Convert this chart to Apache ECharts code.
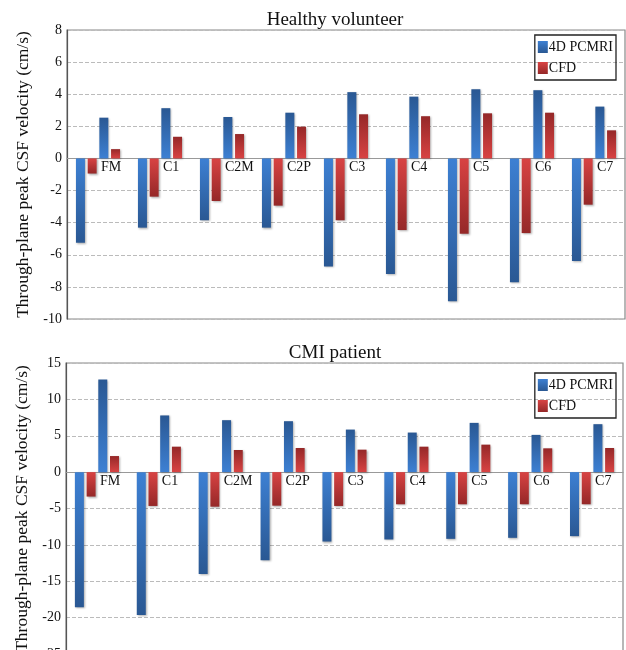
<!DOCTYPE html>
<html>
<head>
<meta charset="utf-8">
<script src="https://cdn.jsdelivr.net/npm/echarts@6/dist/echarts.min.js"></script>
<style>
  html, body { margin: 0; padding: 0; background: #fff; }
  #main { width: 626px; height: 650px; }
</style>
</head>
<body>
<div id="main"></div>
<script>
// levels along the spine
const levels = ['FM', 'C1', 'C2M', 'C2P', 'C3', 'C4', 'C5', 'C6', 'C7']

// healthy volunteer (cm/s)
const hvPcmriNeg = [-5.25, -4.31, -3.85, -4.31, -6.73, -7.19, -8.9, -7.71, -6.38]
const hvCfdNeg = [-0.94, -2.38, -2.65, -2.94, -3.85, -4.46, -4.69, -4.65, -2.88]
const hvPcmriPos = [2.54, 3.13, 2.58, 2.85, 4.13, 3.85, 4.31, 4.25, 3.23]
const hvCfdPos = [0.58, 1.35, 1.52, 1.98, 2.75, 2.63, 2.81, 2.85, 1.75]

// CMI patient (cm/s)
const cmiPcmriNeg = [-18.57, -19.63, -14.0, -12.12, -9.54, -9.26, -9.17, -9.03, -8.8]
const cmiCfdNeg = [-3.36, -4.65, -4.75, -4.61, -4.65, -4.42, -4.42, -4.42, -4.42]
const cmiPcmriPos = [12.72, 7.79, 7.14, 7.0, 5.85, 5.44, 6.77, 5.12, 6.59]
const cmiCfdPos = [2.21, 3.5, 3.04, 3.32, 3.09, 3.5, 3.78, 3.27, 3.32]

const serif = 'Liberation Serif'

// light near zero, dark at the bar end
function grad(dark, light, positive) {
  return {
    type: 'linear', x: 0, y: 0, x2: 0, y2: 1,
    colorStops: positive
      ? [{ offset: 0, color: dark }, { offset: 1, color: light }]
      : [{ offset: 0, color: light }, { offset: 1, color: dark }]
  }
}
const blueDark = '#2a5893', blueLight = '#3d80d3'
const redDark = '#952828', redLight = '#d84343'

function bar(name, data, idx, dark, light, positive) {
  return {
    name: name, type: 'bar', data: data,
    xAxisIndex: idx, yAxisIndex: idx,
    barWidth: 9, barGap: '30%',
    itemStyle: {
      color: grad(dark, light, positive),
      shadowBlur: 2, shadowColor: 'rgba(0,0,0,0.3)', shadowOffsetX: 1, shadowOffsetY: 1
    }
  }
}

// labels sit just under the zero line, so pull them up from the grid bottom
function xAxis(idx, labelMargin) {
  return {
    type: 'category', gridIndex: idx, data: levels,
    axisLine: { onZero: true, lineStyle: { color: '#999', width: 1.2 } },
    axisTick: { show: false },
    axisLabel: {
      interval: 0, align: 'left', margin: labelMargin, padding: [0, 0, 0, 3],
      fontFamily: serif, fontSize: 14, color: '#111'
    },
    splitLine: { show: false }
  }
}

function yAxis(idx, min, max, interval) {
  return {
    type: 'value', gridIndex: idx, min: min, max: max, interval: interval,
    name: 'Through-plane peak CSF velocity (cm/s)',
    nameLocation: 'middle', nameGap: 32,
    nameTextStyle: { fontFamily: serif, fontSize: 17.5, color: '#111' },
    axisLine: { show: true, lineStyle: { color: '#555', width: 1.2 } },
    axisTick: { show: false },
    axisLabel: { margin: 5, fontFamily: serif, fontSize: 14, color: '#111' },
    splitLine: { lineStyle: { type: 'dashed', color: '#bbb' } }
  }
}

function legend(top) {
  return {
    orient: 'vertical', right: 10, top: top,
    data: ['4D PCMRI', 'CFD'],
    icon: 'rect', itemWidth: 10, itemHeight: 12, itemGap: 7,
    borderColor: '#222', borderWidth: 1.3, padding: [5, 3, 5, 3],
    textStyle: { fontFamily: serif, fontSize: 14, color: '#111', padding: [0, 0, 0, -4] }
  }
}

const chart = echarts.init(document.getElementById('main'))
chart.setOption({
  animation: false,
  title: [
    { text: 'Healthy volunteer', left: 330, top: 6, textAlign: 'center',
      textStyle: { fontFamily: serif, fontSize: 19, fontWeight: 'normal', color: '#111' } },
    { text: 'CMI patient', left: 330, top: 339, textAlign: 'center',
      textStyle: { fontFamily: serif, fontSize: 19, fontWeight: 'normal', color: '#111' } }
  ],
  legend: [legend(35), legend(373)],
  grid: [
    { left: 67, top: 30, width: 558, height: 289, show: true, borderColor: '#888', borderWidth: 1.2,
      containLabel: false, outerBoundsMode: 'none' },
    { left: 66, top: 363, width: 557, height: 291, show: true, borderColor: '#888', borderWidth: 1.2,
      containLabel: false, outerBoundsMode: 'none' }
  ],
  xAxis: [xAxis(0, -159), xAxis(1, -180)],
  yAxis: [yAxis(0, -10, 8, 2), yAxis(1, -25, 15, 5)],
  series: [
    bar('4D PCMRI', hvPcmriNeg, 0, blueDark, blueLight, false),
    bar('CFD', hvCfdNeg, 0, redDark, redLight, false),
    bar('4D PCMRI', hvPcmriPos, 0, blueDark, blueLight, true),
    bar('CFD', hvCfdPos, 0, redDark, redLight, true),
    bar('4D PCMRI', cmiPcmriNeg, 1, blueDark, blueLight, false),
    bar('CFD', cmiCfdNeg, 1, redDark, redLight, false),
    bar('4D PCMRI', cmiPcmriPos, 1, blueDark, blueLight, true),
    bar('CFD', cmiCfdPos, 1, redDark, redLight, true)
  ]
})
</script>
</body>
</html>
